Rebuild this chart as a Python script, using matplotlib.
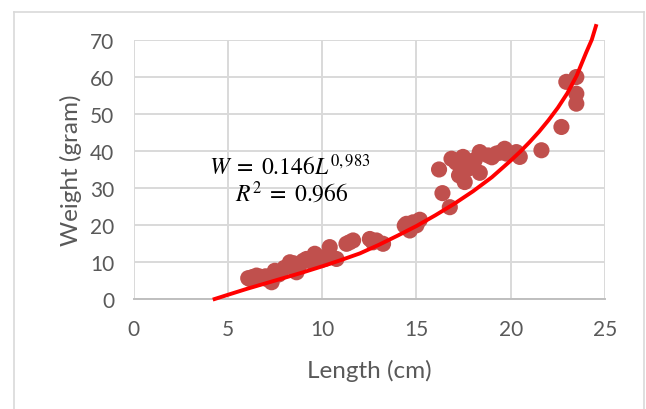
import matplotlib
matplotlib.use("Agg")
import matplotlib.pyplot as plt
from matplotlib.lines import Line2D

# ---- data ----
length_cm = [6.08, 6.2, 6.3, 6.52, 6.7, 6.8, 7.0, 7.05, 7.32, 7.49, 7.7, 8.0, 8.29, 8.5,
             8.64, 8.8, 9.0, 9.17, 9.4, 9.61, 9.8, 10.0, 10.2, 10.4, 10.76, 11.29, 11.45,
             11.64, 12.53, 12.7, 12.88, 13.23, 14.38, 14.47, 14.65, 14.82, 15.0, 15.18,
             16.2, 16.38, 16.77, 16.86, 17.1, 17.26, 17.3, 17.47, 17.56, 17.7, 17.92,
             18.1, 18.36, 18.36, 18.8, 19.0, 19.24, 19.45, 19.68, 19.77, 20.3, 20.48,
             21.63, 22.69, 22.95, 23.48, 23.48, 23.48]
weight_g = [5.5, 5.2, 5.8, 6.2, 5.9, 5.6, 6.0, 5.3, 4.4, 7.5, 6.5, 8.3, 9.8, 9.5,
            7.1, 9.0, 10.2, 10.7, 10.0, 12.1, 11.3, 10.5, 10.8, 13.9, 10.7, 14.8, 15.2,
            15.7, 16.1, 15.2, 15.7, 14.8, 19.7, 20.2, 18.4, 20.6, 19.8, 21.3,
            34.9, 28.5, 24.7, 37.8, 36.8, 33.3, 36.0, 38.3, 31.5, 35.0, 36.4,
            37.5, 39.6, 34.0, 38.7, 38.2, 39.2, 39.5, 40.5, 39.2, 39.6, 38.3,
            40.1, 46.4, 58.6, 59.9, 55.4, 52.7]

# trend line
trend_L = [4.2, 5, 6, 7, 8, 9, 10, 11, 12, 13, 14, 15, 16, 17, 18, 19, 20,
           20.5, 21, 21.5, 22, 22.5, 23, 23.5, 24, 24.3, 24.55]
trend_W = [-0.3, 1.0, 2.6, 4.1, 5.6, 7.1, 8.7, 10.4, 12.2, 14.5, 17.0, 19.6,
           22.5, 25.6, 29.0, 32.8, 37.3, 39.7, 42.3, 45.1, 48.2, 51.6, 55.5,
           60.3, 66.5, 70.0, 74.2]

x_ticks = [0, 5, 10, 15, 20, 25]
y_ticks = [0, 10, 20, 30, 40, 50, 60, 70]

eq_line1 = r"$W\;=\;0.146L^{0,983}$"
eq_line2 = r"$R^{2}\;=\;0.966$"

plt.rcParams['font.family'] = ['Lato', 'DejaVu Sans']
plt.rcParams['mathtext.fontset'] = 'stix'

fig = plt.figure(figsize=(6.46, 4.10), dpi=100)
ax = fig.add_axes([0.2068, 0.2695, 0.7297, 0.6312])

tick_col = '#595959'
grid_col = '#D9D9D9'

ax.set_xlim(0, 25)
ax.set_ylim(0, 70)
ax.set_xticks(x_ticks)
ax.set_yticks(y_ticks)
ax.grid(True, color=grid_col, linewidth=1.4)
ax.set_axisbelow(True)
for s in ['top', 'right', 'left']:
    ax.spines[s].set_visible(False)
ax.spines['bottom'].set_color('#BFBFBF')
ax.spines['bottom'].set_linewidth(1.4)
ax.tick_params(length=0, labelsize=15, colors=tick_col)
ax.tick_params(axis='x', pad=15)
ax.tick_params(axis='y', pad=14)

ax.scatter(length_cm, weight_g, s=135, color='#C0504D', edgecolors='none', zorder=3)
ax.plot(trend_L, trend_W, color='#FF0000', linewidth=2.8, zorder=4,
        clip_on=False, solid_capstyle='butt')

ax.set_xlabel('Length (cm)', fontsize=17.5, color=tick_col, labelpad=14)
ax.set_ylabel('Weight (gram)', fontsize=17.5, color=tick_col, labelpad=6)

ax.text(8.3, 33.7, eq_line1, fontsize=17, ha='center', va='baseline', color='black', zorder=5)
ax.text(8.4, 26.3, eq_line2, fontsize=17, ha='center', va='baseline', color='black', zorder=5)

# chart-area frame
fc = '#D9D9D9'
fig.add_artist(Line2D([14/646, 644/646], [1-13/410, 1-13/410], color=fc, lw=1.2, transform=fig.transFigure))
fig.add_artist(Line2D([14/646, 14/646], [0, 1-13/410], color=fc, lw=1.2, transform=fig.transFigure))
fig.add_artist(Line2D([644/646, 644/646], [0, 1-13/410], color=fc, lw=1.2, transform=fig.transFigure))

fig.savefig('out.png', dpi=100)
